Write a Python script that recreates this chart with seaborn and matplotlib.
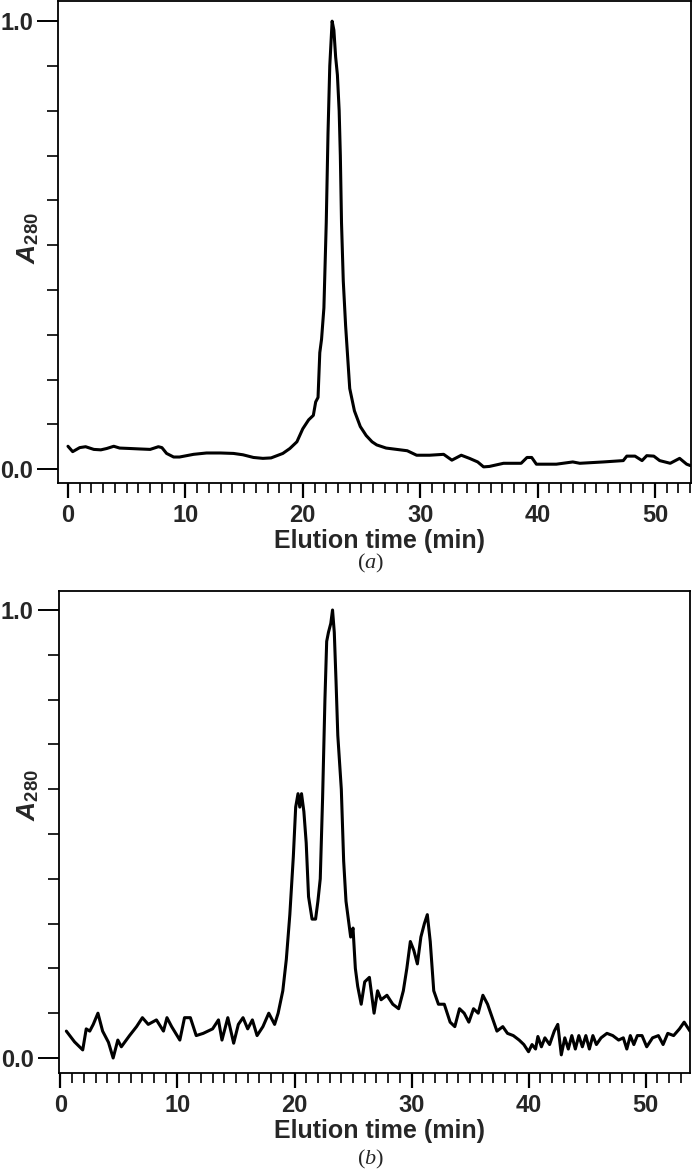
import matplotlib
matplotlib.use("Agg")
import matplotlib.pyplot as plt
import seaborn as sns
import pandas as pd
from matplotlib.ticker import MultipleLocator, FixedLocator, FormatStrFormatter

# ---------------- data ----------------
time_a = [0.0, 0.4, 1.0, 1.5, 2.2, 2.8, 3.3, 3.9, 4.4, 5.3, 6.1, 7.0, 7.7, 8.0, 8.4, 9.0, 9.5,
          10.7, 11.8, 13.0, 14.1, 14.9, 15.8, 16.6, 17.3, 18.3, 18.9, 19.5, 20.0, 20.5, 20.9,
          21.1, 21.3, 21.45, 21.6, 21.8, 22.0, 22.15, 22.3, 22.5, 22.65, 22.8, 22.95, 23.1,
          23.2, 23.3, 23.45, 23.65, 24.0, 24.4, 24.9, 25.4, 25.9, 26.3, 27.1, 28.0, 28.9,
          29.7, 30.8, 32.0, 32.7, 33.5, 34.2, 34.9, 35.4, 35.9, 37.1, 38.6, 39.1, 39.5, 39.9,
          41.6, 43.0, 43.6, 45.6, 47.3, 47.6, 48.3, 48.9, 49.3, 49.9, 50.4, 51.3, 52.1, 52.7,
          53.0]
a280_a = [0.051, 0.039, 0.048, 0.050, 0.044, 0.043, 0.046, 0.051, 0.047, 0.046, 0.045, 0.044,
          0.050, 0.048, 0.035, 0.027, 0.027, 0.033, 0.036, 0.036, 0.035, 0.032, 0.026, 0.024,
          0.025, 0.035, 0.046, 0.061, 0.090, 0.110, 0.120, 0.150, 0.160, 0.260, 0.290, 0.360,
          0.550, 0.750, 0.900, 1.000, 0.980, 0.920, 0.880, 0.800, 0.700, 0.550, 0.420, 0.320,
          0.180, 0.130, 0.095, 0.075, 0.061, 0.054, 0.047, 0.044, 0.041, 0.031, 0.031, 0.033,
          0.020, 0.031, 0.024, 0.016, 0.005, 0.006, 0.013, 0.013, 0.026, 0.026, 0.011, 0.011,
          0.016, 0.013, 0.016, 0.019, 0.029, 0.029, 0.019, 0.030, 0.029, 0.019, 0.013, 0.024,
          0.011, 0.008]

time_b = [0.5, 1.2, 1.9, 2.2, 2.5, 2.8, 3.2, 3.6, 4.1, 4.5, 4.9, 5.2, 5.9, 6.5, 7.0, 7.5, 8.2,
          8.8, 9.1, 9.5, 10.2, 10.6, 11.1, 11.6, 12.2, 13.0, 13.5, 13.8, 14.3, 14.8, 15.2, 15.6,
          16.0, 16.4, 16.8, 17.3, 17.8, 18.3, 18.6, 19.0, 19.3, 19.6, 19.9, 20.1, 20.3, 20.45,
          20.6, 20.8, 21.0, 21.2, 21.5, 21.8, 22.0, 22.2, 22.4, 22.6, 22.75, 22.9, 23.1, 23.25,
          23.4, 23.55, 23.7, 23.85, 24.0, 24.2, 24.4, 24.6, 24.8, 25.0, 25.2, 25.4, 25.7, 26.0,
          26.4, 26.8, 27.1, 27.4, 27.9, 28.4, 28.9, 29.3, 29.6, 29.9, 30.2, 30.5, 30.8, 31.1,
          31.35, 31.6, 31.9, 32.3, 32.8, 33.3, 33.7, 34.1, 34.5, 34.9, 35.3, 35.7, 36.1, 36.5,
          36.9, 37.3, 37.8, 38.2, 38.7, 39.2, 39.6, 40.0, 40.3, 40.6, 40.8, 41.1, 41.4, 41.8,
          42.2, 42.5, 42.8, 43.1, 43.4, 43.7, 44.0, 44.3, 44.6, 44.9, 45.2, 45.5, 45.8, 46.2,
          46.7, 47.2, 47.7, 48.1, 48.4, 48.7, 49.0, 49.3, 49.7, 50.1, 50.6, 51.1, 51.5, 51.9,
          52.4, 52.9, 53.3, 53.8]
a280_b = [0.060, 0.036, 0.018, 0.065, 0.060, 0.075, 0.100, 0.060, 0.035, 0.000, 0.040, 0.025,
          0.050, 0.070, 0.090, 0.075, 0.085, 0.060, 0.090, 0.070, 0.040, 0.090, 0.090, 0.050,
          0.055, 0.065, 0.085, 0.040, 0.090, 0.033, 0.075, 0.090, 0.065, 0.085, 0.050, 0.070,
          0.100, 0.075, 0.100, 0.150, 0.220, 0.320, 0.450, 0.560, 0.590, 0.560, 0.590, 0.550,
          0.480, 0.360, 0.310, 0.310, 0.350, 0.400, 0.580, 0.800, 0.930, 0.950, 0.970, 1.000,
          0.950, 0.840, 0.720, 0.660, 0.600, 0.440, 0.350, 0.310, 0.270, 0.290, 0.200, 0.160,
          0.120, 0.170, 0.180, 0.100, 0.150, 0.130, 0.140, 0.120, 0.110, 0.150, 0.200, 0.260,
          0.240, 0.210, 0.270, 0.300, 0.320, 0.260, 0.150, 0.120, 0.120, 0.080, 0.070, 0.110,
          0.100, 0.080, 0.110, 0.100, 0.140, 0.120, 0.090, 0.060, 0.070, 0.055, 0.050, 0.040,
          0.030, 0.014, 0.030, 0.020, 0.048, 0.025, 0.045, 0.030, 0.060, 0.075, 0.007, 0.045,
          0.020, 0.050, 0.020, 0.050, 0.025, 0.050, 0.020, 0.050, 0.030, 0.045, 0.055, 0.050,
          0.040, 0.045, 0.020, 0.050, 0.030, 0.050, 0.050, 0.025, 0.045, 0.050, 0.030, 0.055,
          0.050, 0.065, 0.080, 0.060]

x_label = "Elution time (min)"
y_label = r"$\mathbfit{A}_{\mathbf{280}}$"
captions = ["a", "b"]

# ---------------- style ----------------
sns.set_theme(style="ticks")
plt.rcParams["font.family"] = ["Liberation Sans", "DejaVu Sans"]
plt.rcParams["mathtext.fontset"] = "custom"
plt.rcParams["mathtext.bfit"] = "Liberation Sans:bold:italic"
plt.rcParams["mathtext.bf"] = "Liberation Sans:bold"
plt.rcParams["mathtext.rm"] = "Liberation Serif"
plt.rcParams["mathtext.it"] = "Liberation Serif:italic"

W, H = 692, 1171
fig = plt.figure(figsize=(W / 100, H / 100), dpi=100)

def px_axes(left, top, right, bottom):
    return [left / W, 1 - bottom / H, (right - left) / W, (bottom - top) / H]

panels = [
    dict(t=time_a, v=a280_a, box=(58, 1, 691, 483), xlim=(-0.85, 53.07), ylim=(-0.031, 1.045),
         ylab_y=238, cap_y=563, xl_y=541),
    dict(t=time_b, v=a280_b, box=(58.5, 591, 690, 1073), xlim=(-0.17, 53.8), ylim=(-0.0335, 1.0424),
         ylab_y=795, cap_y=1159, xl_y=1131),
]

for p, cap in zip(panels, captions):
    l, t, r, b = p["box"]
    ax = fig.add_axes(px_axes(l, t, r, b))
    df = pd.DataFrame({"time": p["t"], "A280": p["v"]})
    sns.lineplot(data=df, x="time", y="A280", ax=ax, color="black", linewidth=2.2,
                 estimator=None, sort=False)
    ax.set_xlim(*p["xlim"])
    ax.set_ylim(*p["ylim"])
    for s in ax.spines.values():
        s.set_linewidth(1.3)
        s.set_color("black")
    ax.xaxis.set_major_locator(MultipleLocator(10))
    ax.xaxis.set_minor_locator(MultipleLocator(1))
    ax.yaxis.set_major_locator(FixedLocator([0.0, 1.0]))
    ax.yaxis.set_minor_locator(MultipleLocator(0.1))
    ax.yaxis.set_major_formatter(FormatStrFormatter("%.1f"))
    ax.tick_params(axis="x", which="major", length=11, width=1.6, pad=4, labelsize=17, color="black")
    ax.tick_params(axis="x", which="minor", length=7, width=1.2, color="black")
    ax.tick_params(axis="y", which="major", length=15, width=1.4, pad=3, labelsize=17, color="black")
    ax.tick_params(axis="y", which="minor", length=8, width=1.2, color="black")
    for lab in ax.get_xticklabels() + ax.get_yticklabels():
        lab.set_fontweight("bold")
    ax.set_xlabel("")
    ax.set_ylabel(y_label, fontsize=19)
    ax.yaxis.set_label_coords(-(l - 28) / (r - l), (b - p["ylab_y"]) / (b - t))
    ax.yaxis.label.set_va("center")
    fig.text(380 / W, 1 - p["xl_y"] / H, x_label, ha="center", va="center",
             fontsize=18, fontweight="bold")
    fig.text(371 / W, 1 - p["cap_y"] / H, r"($\mathit{" + cap + "}$)", ha="center", va="center",
             fontsize=16, family="Liberation Serif")

fig.savefig("out.png", dpi=100)
